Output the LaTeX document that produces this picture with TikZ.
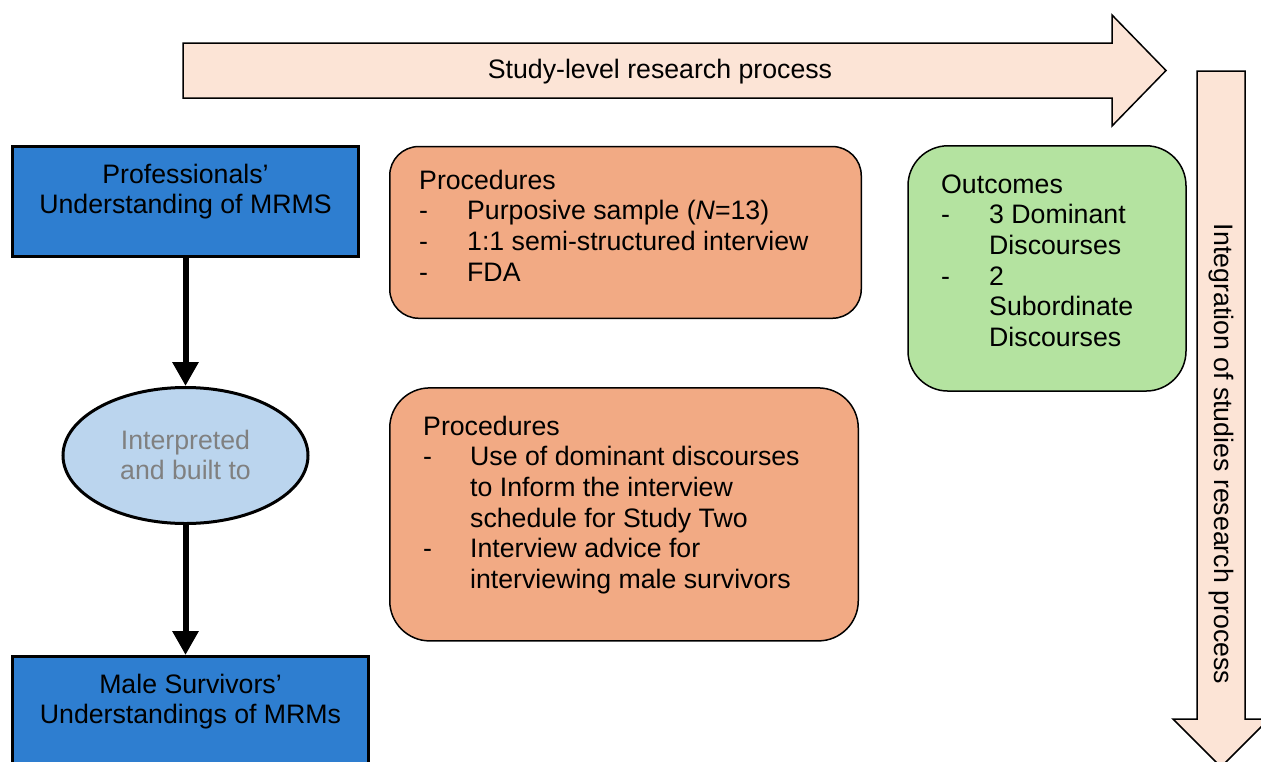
\documentclass[tikz,border=0pt]{standalone}
\usepackage{fontspec}
\setmainfont{Liberation Sans}
\usetikzlibrary{arrows.meta,shapes.geometric}

\definecolor{boxblue}{RGB}{46,126,208}
\definecolor{ellblue}{RGB}{187,213,238}
\definecolor{procorange}{RGB}{242,170,132}
\definecolor{outgreen}{RGB}{180,227,160}
\definecolor{peach}{RGB}{252,228,214}
\definecolor{softgray}{RGB}{128,128,128}

\newcommand\bodyfs{\fontsize{26.7pt}{30.7pt}\selectfont}

\tikzset{
  every node/.style={font=\bodyfs},
  bluebox/.style={draw=black, line width=3pt, fill=boxblue, rectangle},
  stageell/.style={draw=black, line width=3pt, fill=ellblue, ellipse, inner sep=0pt},
  procbox/.style={draw=black, line width=1.5pt, fill=procorange, rectangle},
  outbox/.style={draw=black, line width=1.5pt, fill=outgreen, rectangle},
  bigarrow/.style={draw=black, line width=1.5pt, fill=peach, line join=miter},
  conn/.style={line width=6pt, -{Triangle[width=25pt,length=24pt]}},
  listtext/.style={anchor=base west, inner sep=0pt},
  centertext/.style={anchor=base, inner sep=0pt},
}

\begin{document}
\begin{tikzpicture}[x=1pt,y=-1pt]
\useasboundingbox (0,0) rectangle (1261,761);
\clip (0,0) rectangle (1261,761);

% horizontal process arrow
\draw[bigarrow] (183,43) -- (1112,43) -- (1112,15) -- (1166,70.5)
  -- (1112,126) -- (1112,98) -- (183,98) -- cycle;
\node[inner sep=0pt] (studylevel) at (660,72) {Study-level research process};

% vertical integration arrow
\draw[bigarrow] (1197,71) -- (1245,71) -- (1245,719) -- (1269,719)
  -- (1221,767) -- (1173,719) -- (1197,719) -- cycle;
\node[inner sep=0pt, rotate=-90] (integration) at (1221,454)
  {Integration of studies research process};

% left column: studies and linking stage
\node[bluebox, minimum width=346pt, minimum height=109.5pt] (prof) at (185.5,201.7) {};
\node[centertext] (proftext) at (185.5,183)
  {\begin{tabular}[t]{@{}c@{}}Professionals’\\Understanding of MRMS\end{tabular}};

\node[stageell, minimum width=245pt, minimum height=136pt] (interp) at (185.5,455.5) {};
\node[centertext, text=softgray] (interptext) at (185.5,449)
  {\begin{tabular}[t]{@{}c@{}}Interpreted\\and built to\end{tabular}};

\node[bluebox, minimum width=356pt, minimum height=143pt] (male) at (190.5,728) {};
\node[centertext] (maletext) at (190.5,693)
  {\begin{tabular}[t]{@{}c@{}}Male Survivors’\\Understandings of MRMs\end{tabular}};

\draw[conn] (prof.south -| interp.north) -- (interp.north);
\draw[conn] (interp.south) -- (interp.south |- male.north);

% procedures, study one
\node[procbox, rounded corners=29pt, minimum width=471.5pt, minimum height=171.75pt]
  (proc1) at (625.5,232.4) {};
\node[listtext] (proc1text) at (419,189) {%
  \begin{tabular}[t]{@{}p{48pt}@{}l@{}}
  \multicolumn{2}{@{}l@{}}{Procedures}\\
  - & Purposive sample (\textit{N}=13)\\
  - & 1:1 semi-structured interview\\
  - & FDA
  \end{tabular}};

% procedures, linking to study two
\node[procbox, rounded corners=40pt, minimum width=468.5pt, minimum height=253pt]
  (proc2) at (624,514.4) {};
\node[listtext] (proc2text) at (423,435) {%
  \begin{tabular}[t]{@{}p{47pt}@{}l@{}}
  \multicolumn{2}{@{}l@{}}{Procedures}\\
  - & Use of dominant discourses\\
    & to Inform the interview\\
    & schedule for Study Two\\
  - & Interview advice for\\
    & interviewing male survivors
  \end{tabular}};

% outcomes
\node[outbox, rounded corners=40pt, minimum width=278pt, minimum height=245.25pt]
  (outc) at (1047,268.4) {};
\node[listtext] (outctext) at (941,193) {%
  \begin{tabular}[t]{@{}p{48pt}@{}l@{}}
  \multicolumn{2}{@{}l@{}}{Outcomes}\\
  - & 3 Dominant\\
    & Discourses\\
  - & 2\\
    & Subordinate\\
    & Discourses
  \end{tabular}};
\end{tikzpicture}
\end{document}
